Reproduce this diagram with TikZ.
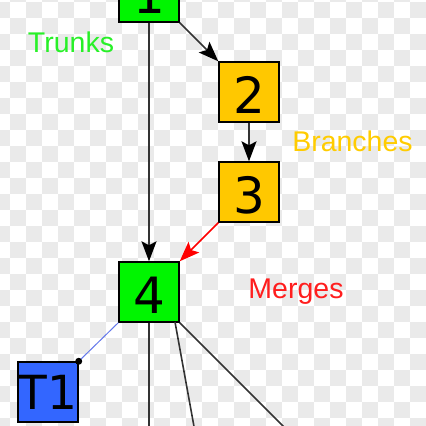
\documentclass[tikz,border=0pt]{standalone}
\usepackage{fontspec}
\setmainfont{Liberation Sans}
\newfontfamily\digitfont{DejaVu Sans}
\usetikzlibrary{arrows.meta}
\definecolor{chk}{RGB}{234,234,234}
\definecolor{boxgreen}{RGB}{0,245,0}
\definecolor{boxyellow}{RGB}{255,200,0}
\definecolor{boxblue}{RGB}{51,102,255}
\definecolor{lblgreen}{RGB}{40,240,40}
\definecolor{lblyellow}{RGB}{255,204,0}
\definecolor{lblred}{RGB}{255,30,30}
\definecolor{linegray}{RGB}{51,51,51}
\definecolor{lineblue}{RGB}{100,120,235}
\tikzset{
  numbox/.style={draw=black, line width=1.4pt, minimum size=60pt, inner sep=0pt,
    font=\digitfont\fontsize{50}{60}\selectfont, text height=42pt, text depth=0pt},
  tbox/.style={draw=black, line width=1.4pt, minimum size=60pt, inner sep=0pt,
    font=\digitfont\fontsize{47}{56}\selectfont, text height=35pt, text depth=0pt},
  lbl/.style={anchor=base, inner sep=0pt, font=\fontsize{28.5}{34}\selectfont},
  conn/.style={draw=linegray, line width=1.6pt},
  arr/.style={conn, -{Stealth[length=20pt,width=15pt,inset=4pt,color=black,fill=black]}},
}
\begin{document}
\begin{tikzpicture}[x=1pt,y=-1pt]
\useasboundingbox (0,0) rectangle (426,426);
\clip (0,0) rectangle (426,426);
% checkerboard background
\fill[white] (0,0) rectangle (426,426);
\foreach \j in {0,2,...,26}{
  \foreach \i in {-1,1,...,25}{
    \fill[chk] (10+16*\i,2+16*\j) rectangle (26+16*\i,18+16*\j);
  }
}
\foreach \j in {-1,1,...,25}{
  \foreach \i in {0,2,...,26}{
    \fill[chk] (10+16*\i,2+16*\j) rectangle (26+16*\i,18+16*\j);
  }
}
% nodes
\node[numbox, fill=boxgreen] (b1) at (149,-8) {1};
\node[numbox, fill=boxyellow] (b2) at (249,92) {2};
\node[numbox, fill=boxyellow] (b3) at (249,192) {3};
\node[numbox, fill=boxgreen] (b4) at (149,292) {4};
\node[tbox, fill=boxblue] (t1) at (48,392) {T1};
% labels
\node[lbl, text=lblgreen] (ltr) at (71,52) {Trunks};
\node[lbl, text=lblyellow] (lbr) at (352.5,151) {Branches};
\node[lbl, text=lblred] (lme) at (296,298) {Merges};
% free ends
\coordinate (e1) at (149,432);
\coordinate (s2) at (175,322);
\coordinate (e2) at (195,432);
\coordinate (e3) at (289,432);
% connectors
\draw[arr] (b1.south) -- (b4.north);
\draw[arr] (b1.south east) -- (b2.north west);
\draw[arr] (b2.south) -- (b3.north);
\draw[conn, draw=red, -{Stealth[length=20pt,width=15pt,inset=4pt,color=red,fill=red]}] (b3.south west) -- (b4.north east);
\draw[draw=lineblue, line width=1pt] (b4.south west) -- (t1.north east);
\fill[black] (t1.north east) circle (3.5pt);
\draw[conn] (b4.south) -- (e1);
\draw[conn] (s2) -- (e2);
\draw[conn] (b4.south east) -- (e3);
\end{tikzpicture}
\end{document}
